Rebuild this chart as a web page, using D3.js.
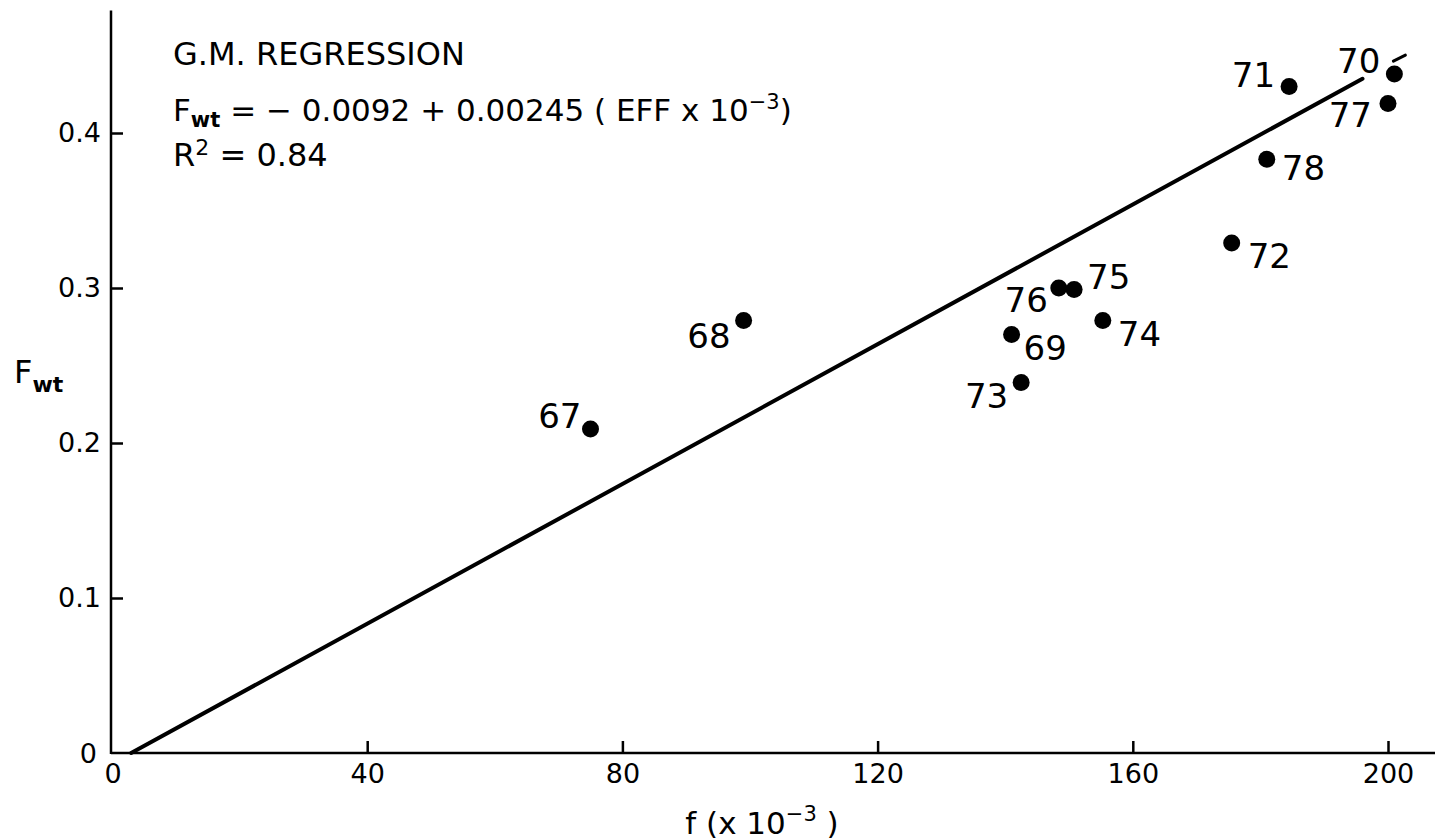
<!DOCTYPE html>
<html>
<head>
<meta charset="utf-8">
<script src="https://cdn.jsdelivr.net/npm/d3@7"></script>
<style>
  html, body { margin: 0; padding: 0; background: #fff; }
  svg { display: block; }
  text { font-family: "DejaVu Sans", sans-serif; fill: #000; }
</style>
</head>
<body>
<svg id="chart" width="1435" height="840"></svg>
<script>
// ---- data ----
const years   = ["67", "68", "69", "70", "71", "72", "73", "74", "75", "76", "77", "78"];
const effort  = [75, 99, 141, 201, 184.5, 175.5, 142.5, 155.3, 150.8, 148.4, 200, 181];
const fwt     = [0.209, 0.279, 0.270, 0.438, 0.430, 0.329, 0.239, 0.279, 0.299, 0.300, 0.419, 0.383];
const lineX   = [3, 196];           // regression line drawn end points (x)
const lineY   = [0, 0.435];         // regression line drawn end points (y)
const xTicks  = [40, 80, 120, 160, 200];
const yTicks  = [0.1, 0.2, 0.3, 0.4];

// ---- label placement (layout, not data) ----
const labelPos = {
  "67": {dx: -9,  dy: -1, a: "end"},
  "68": {dx: -13, dy: 27, a: "end"},
  "69": {dx: 12,  dy: 25, a: "start"},
  "70": {dx: -14, dy: -1, a: "end"},
  "71": {dx: -14, dy: 0,  a: "end"},
  "72": {dx: 16,  dy: 25, a: "start"},
  "73": {dx: -13, dy: 25, a: "end"},
  "74": {dx: 15,  dy: 25, a: "start"},
  "75": {dx: 13,  dy: -1, a: "start"},
  "76": {dx: -11, dy: 24, a: "end"},
  "77": {dx: -16, dy: 23, a: "end"},
  "78": {dx: 15,  dy: 21, a: "start"}
};

const svg = d3.select("#chart");
const x = d3.scaleLinear().domain([0, 200]).range([112, 1388]);
const y = d3.scaleLinear().domain([0, 0.4]).range([753, 133]);

const x0 = 111, yb = y(0);

// axis lines
svg.append("line").attr("x1", x0).attr("x2", 1435).attr("y1", yb).attr("y2", yb)
  .attr("stroke", "#000").attr("stroke-width", 2.5);
svg.append("line").attr("x1", x0).attr("x2", x0).attr("y1", y(0.479)).attr("y2", yb + 1)
  .attr("stroke", "#000").attr("stroke-width", 2.5);

// x axis ticks and labels
const xAxis = d3.axisBottom(x).tickValues(xTicks).tickSizeInner(-12).tickSizeOuter(0).tickPadding(11)
  .tickFormat(d3.format("d"));
const gx = svg.append("g").attr("transform", `translate(0,${yb})`).call(xAxis);
gx.select(".domain").remove();
gx.selectAll(".tick line").attr("stroke", "#000").attr("stroke-width", 2.5);
gx.selectAll(".tick text").attr("font-size", 27).attr("font-family", "DejaVu Sans").attr("fill", "#000");
// x "0"
svg.append("text").attr("x", x(0) + 1).attr("y", yb + 30).attr("text-anchor", "middle")
  .attr("font-size", 27).text("0");

// y axis ticks and labels
const yAxis = d3.axisLeft(y).tickValues(yTicks).tickSizeInner(-12).tickSizeOuter(0).tickPadding(22)
  .tickFormat(d3.format(".1f"));
const gy = svg.append("g").attr("transform", `translate(${x0},0)`).call(yAxis);
gy.select(".domain").remove();
gy.selectAll(".tick line").attr("stroke", "#000").attr("stroke-width", 2.5);
gy.selectAll(".tick text").attr("font-size", 27).attr("font-family", "DejaVu Sans").attr("fill", "#000")
  .attr("x", -10);
svg.append("text").attr("x", 97).attr("y", yb + 10).attr("text-anchor", "end")
  .attr("font-size", 27).text("0");

// regression line
svg.append("line")
  .attr("x1", x(lineX[0])).attr("y1", y(lineY[0]))
  .attr("x2", x(lineX[1])).attr("y2", y(lineY[1]))
  .attr("stroke", "#000").attr("stroke-width", 4).attr("stroke-linecap", "round");

// points
const pts = years.map((yr, i) => ({yr, ex: effort[i], f: fwt[i]}));
svg.selectAll("circle.pt").data(pts).enter().append("circle")
  .attr("class", "pt")
  .attr("cx", d => x(d.ex)).attr("cy", d => y(d.f)).attr("r", 8.5).attr("fill", "#000");

// small tick mark near 70
const p70 = pts.find(d => d.yr === "70");
svg.append("line")
  .attr("x1", x(p70.ex) - 1).attr("y1", y(p70.f) - 13)
  .attr("x2", x(p70.ex) + 11).attr("y2", y(p70.f) - 19)
  .attr("stroke", "#000").attr("stroke-width", 3).attr("stroke-linecap", "round");

// point labels
svg.selectAll("text.lbl").data(pts).enter().append("text")
  .attr("class", "lbl")
  .attr("x", d => x(d.ex) + labelPos[d.yr].dx)
  .attr("y", d => y(d.f) + labelPos[d.yr].dy)
  .attr("text-anchor", d => labelPos[d.yr].a)
  .attr("font-size", 34)
  .text(d => d.yr);

// annotation
svg.append("text").attr("x", 173).attr("y", 65).attr("font-size", 32).text("G.M. REGRESSION");
const eq = svg.append("text").attr("x", 173).attr("y", 121).attr("font-size", 31);
eq.append("tspan").text("F");
eq.append("tspan").attr("font-size", 21).attr("dy", 6).attr("font-weight", "bold").text("wt");
eq.append("tspan").attr("dy", -6).text(" = − 0.0092 + 0.00245 ( EFF x 10");
eq.append("tspan").attr("font-size", 21).attr("dy", -12).text("−3");
eq.append("tspan").attr("dy", 12).text(")");
const r2 = svg.append("text").attr("x", 173).attr("y", 166).attr("font-size", 32);
r2.append("tspan").text("R");
r2.append("tspan").attr("font-size", 22).attr("dy", -11).text("2");
r2.append("tspan").attr("dy", 11).text(" =  0.84");

// y axis title
const yt = svg.append("text").attr("x", 14).attr("y", 383).attr("font-size", 32);
yt.append("tspan").text("F");
yt.append("tspan").attr("font-size", 22).attr("font-weight", "bold").attr("dy", 9).text("wt");

// x axis title
const xt = svg.append("text").attr("x", 762).attr("y", 834).attr("font-size", 31).attr("text-anchor", "middle");
xt.append("tspan").text("f (x 10");
xt.append("tspan").attr("font-size", 21).attr("dy", -13).text("−3");
xt.append("tspan").attr("dy", 13).text(" )");
</script>
</body>
</html>
